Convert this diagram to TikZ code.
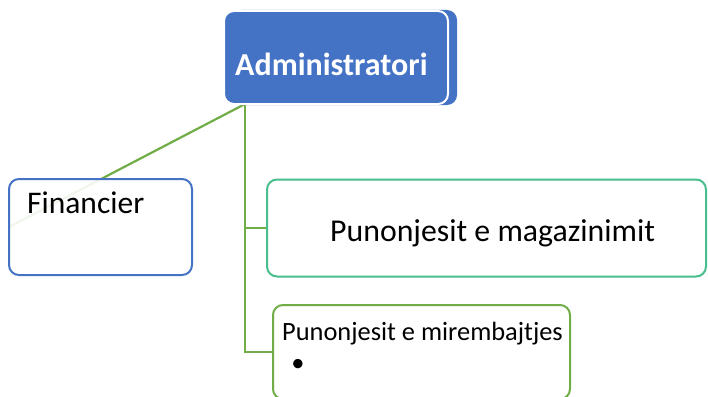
\documentclass[tikz,border=0pt]{standalone}
\usepackage{fontspec}
\setmainfont{Carlito}
\usetikzlibrary{backgrounds,calc}
\definecolor{accblue}{HTML}{4472C4}
\definecolor{accgreen}{HTML}{70AD47}
\definecolor{accteal}{HTML}{47BE8C}
\tikzset{
  box/.style={rectangle, rounded corners=10pt, line width=2pt, inner sep=0pt, outer sep=0pt},
  conn/.style={accgreen, line width=2.2pt},
  lbl/.style={anchor=base west, inner sep=0pt, text=black},
}
\begin{document}
\begin{tikzpicture}[x=1pt,y=-1pt]
\useasboundingbox (0,0) rectangle (708,396);
\clip (0,0) rectangle (708,396);
% administrator (back layer and front)
\node[box, fill=accblue, minimum width=225pt, minimum height=95pt] (admback) at (344.5,57.5) {};
\node[box, fill=accblue, draw=white, minimum width=224pt, minimum height=93pt] (admin) at (336,57.5) {};
\node[lbl, text=white, font=\fontsize{32}{36}\selectfont\bfseries] (tadmin) at (235,75) {Administratori};
% boxes
\node[box, draw=accblue, fill=white, fill opacity=0.9, minimum width=183pt, minimum height=96pt] (fin) at (100.5,227) {};
\node[box, draw=accteal, fill=white, minimum width=439pt, minimum height=97pt] (mag) at (486.5,228) {};
\node[box, draw=accgreen, fill=white, minimum width=297pt, minimum height=94pt] (mir) at (421.5,352) {};
% texts
\node[lbl, font=\fontsize{31.5}{36}\selectfont] (tfin) at (27,213) {Financier};
\node[lbl, font=\fontsize{31.8}{36}\selectfont] (tmag) at (330,241) {Punonjesit e magazinimit};
\node[lbl, font=\fontsize{26.4}{30}\selectfont] (tmir) at (282,340) {Punonjesit e mirembajtjes};
\node[inner sep=0pt, font=\fontsize{26.4}{30}\selectfont] (bul) at (298,365) {•};
% connectors
\coordinate (j) at ($(admin.south west)+(21,0)$);
\begin{scope}[on background layer]
\draw[conn] (j) -- (fin.west);
\draw[conn] (j) |- (mir.west);
\draw[conn] (j |- mag.west) -- (mag.west);
\end{scope}
\end{tikzpicture}
\end{document}
